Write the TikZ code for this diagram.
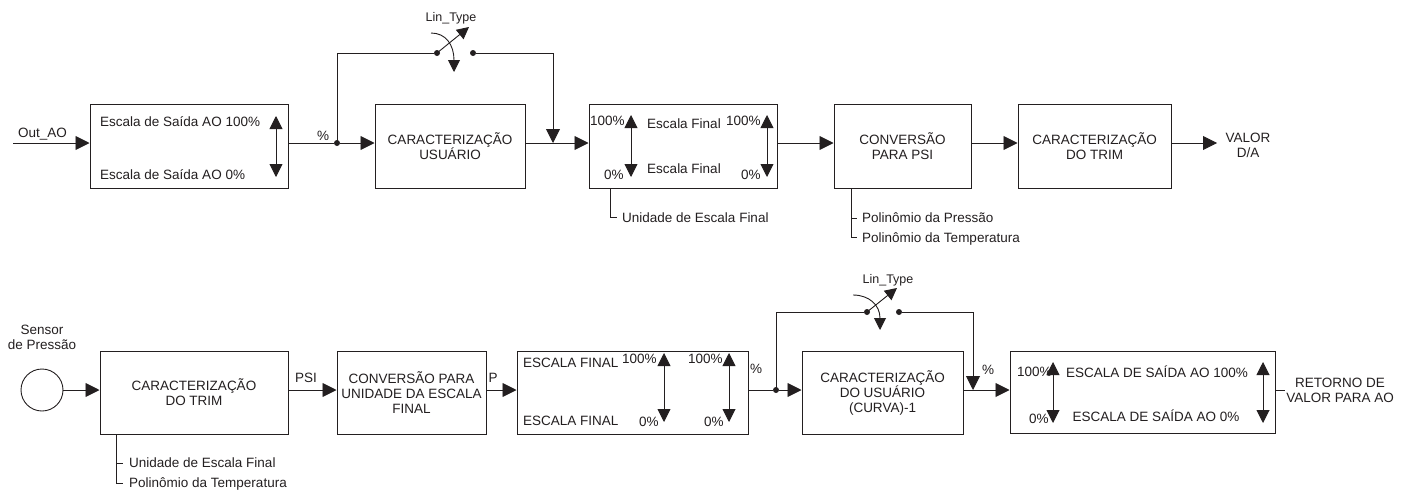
\documentclass[tikz,border=0pt]{standalone}
\usepackage{fontspec}
\setmainfont{Liberation Sans}
\usetikzlibrary{arrows.meta}
\definecolor{ink}{RGB}{35,31,32}
\begin{document}
\begin{tikzpicture}[x=1pt,y=-1pt,
  every node/.style={font=\fontsize{13.5}{15}\selectfont, text=ink, inner sep=0pt},
  box/.style={draw=ink, line width=1pt, align=center, fill=white},
  lbl/.style={text height=9.7pt, text depth=0pt},
  ml/.style={align=center},
  flow/.style={draw=ink, line width=0.9pt, -{Triangle[length=14pt,width=14pt]}},
  sflow/.style={draw=ink, line width=0.9pt, -{Triangle[length=12pt,width=12pt]}},
  darr/.style={draw=ink, line width=0.9pt, {Triangle[length=13pt,width=13pt]}-{Triangle[length=13pt,width=13pt]}},
  ln/.style={draw=ink, line width=0.9pt},
  dot/.style={circle, fill=ink, minimum size=6pt, inner sep=0pt},
  small/.style={font=\fontsize{12.5}{14}\selectfont}
]
\useasboundingbox (0,0) rectangle (1408,493);

% ================= TOP ROW =================
\coordinate (r1) at (0,143);
\coordinate (in1) at (13,143);
\node[lbl] (outao) at (42.5,133) {Out\_AO};

\node[box, minimum width=198pt, minimum height=84pt] (b1) at (189,146) {};
\node[lbl, anchor=west] (b1t) at (100,122) {Escala de Saída AO 100\%};
\node[lbl, anchor=west] (b1b) at (100,175) {Escala de Saída AO 0\%};
\coordinate (a1t) at (276,116);
\coordinate (a1b) at (276,177);
\draw[darr] (a1t) -- (a1b);
\draw[flow] (in1) -- (b1.west |- r1);

\node[dot] (d1) at (337,143) {};
\node[lbl] (pct1) at (323,136) {\%};
\node[box, minimum width=150pt, minimum height=84pt] (b2) at (450,146) {CARACTERIZAÇÃO\\USUÁRIO};
\draw[ln] (b1.east |- r1) -- (d1);
\draw[flow] (d1) -- (b2.west |- r1);

% switch 1
\node[dot] (s1a) at (437,53) {};
\node[dot] (s1b) at (473,53) {};
\coordinate (j1) at (553,143);
\coordinate (arm1) at (469,27);
\coordinate (c1s) at (431,33);
\coordinate (c1e) at (454,72);
\draw[ln] (d1.center) |- (s1a);
\draw[flow] (s1b) -| (j1);
\draw[sflow] (s1a.center) -- (arm1);
\draw[sflow] (c1s) .. controls (446,33) and (454,45) .. (c1e);
\node[lbl, small] (lt1) at (451,17) {Lin\_Type};

\node[box, minimum width=188pt, minimum height=84pt] (b3) at (683,146) {};
\draw[flow] (b2.east |- r1) -- (b3.west |- r1);
\node[lbl, anchor=west] (b3p1) at (590,121) {100\%};
\node[lbl] (b3e1) at (684,124) {Escala Final};
\node[lbl, anchor=west] (b3p2) at (726,121) {100\%};
\node[lbl, anchor=west] (b3z1) at (604,175) {0\%};
\node[lbl] (b3e2) at (684,169) {Escala Final};
\node[lbl, anchor=west] (b3z2) at (741,175) {0\%};
\coordinate (a3t) at (631,115); \coordinate (a3b) at (631,177);
\coordinate (a4t) at (767,115); \coordinate (a4b) at (767,177);
\draw[darr] (a3t) -- (a3b);
\draw[darr] (a4t) -- (a4b);
\coordinate (u0) at (610,188);
\coordinate (u1) at (617,217);
\draw[ln] (u0) |- (u1);
\node[lbl, anchor=west] (unid1) at (622,218) {Unidade de Escala Final};

\node[box, minimum width=137pt, minimum height=84pt] (b4) at (902.5,146) {CONVERSÃO\\PARA PSI};
\draw[flow] (b3.east |- r1) -- (b4.west |- r1);
\coordinate (p0) at (851,188);
\coordinate (p1) at (857,218);
\coordinate (p2) at (857,237);
\draw[ln] (p0) |- (p2);
\draw[ln] (p1 -| p0) -- (p1);
\node[lbl, anchor=west] (pol1) at (862,218) {Polinômio da Pressão};
\node[lbl, anchor=west] (pol2) at (862,238) {Polinômio da Temperatura};

\node[box, minimum width=153pt, minimum height=84pt] (b5) at (1094.5,146) {CARACTERIZAÇÃO\\DO TRIM};
\draw[flow] (b4.east |- r1) -- (b5.west |- r1);
\coordinate (out1) at (1217,143);
\draw[flow] (b5.east |- r1) -- (out1);
\node[ml] (valor) at (1248,145.5) {VALOR\\D/A};

% ================= BOTTOM ROW =================
\coordinate (r2) at (0,390);
\node[ml] (senstxt) at (42,337) {Sensor\\de Pressão};
\node[circle, draw=ink, line width=0.9pt, minimum size=42pt, inner sep=0pt] (sens) at (42,390) {};

\node[box, minimum width=188pt, minimum height=83pt] (b6) at (194,392.5) {CARACTERIZAÇÃO\\DO TRIM};
\draw[flow] (sens.east) -- (b6.west |- r2);
\coordinate (t0) at (116,434);
\coordinate (t1) at (123,463);
\coordinate (t2) at (123,483);
\draw[ln] (t0) |- (t2);
\draw[ln] (t1 -| t0) -- (t1);
\node[lbl, anchor=west] (unid2) at (129,463) {Unidade de Escala Final};
\node[lbl, anchor=west] (pol3) at (129,483) {Polinômio da Temperatura};

\node[lbl] (psi) at (306,378) {PSI};
\node[box, minimum width=149pt, minimum height=83pt] (b7) at (411.5,392.5) {CONVERSÃO PARA\\UNIDADE DA ESCALA\\FINAL};
\draw[flow] (b6.east |- r2) -- (b7.west |- r2);

\node[lbl] (pp) at (493,378) {P};
\node[box, minimum width=231pt, minimum height=83pt] (b8) at (632.5,392.5) {};
\draw[flow] (b7.east |- r2) -- (b8.west |- r2);
\node[lbl, anchor=west] (b8e1) at (523,363) {ESCALA FINAL};
\node[lbl, anchor=west] (b8e2) at (523,421) {ESCALA FINAL};
\node[lbl, anchor=west] (b8p1) at (622,359) {100\%};
\node[lbl, anchor=west] (b8z1) at (639,422) {0\%};
\node[lbl, anchor=west] (b8p2) at (688,359) {100\%};
\node[lbl, anchor=west] (b8z2) at (704,422) {0\%};
\coordinate (a8t) at (664,353); \coordinate (a8b) at (664,422);
\coordinate (a9t) at (729,353); \coordinate (a9b) at (729,422);
\draw[darr] (a8t) -- (a8b);
\draw[darr] (a9t) -- (a9b);

\node[lbl] (pct2) at (756,369) {\%};
\node[dot] (d2) at (776,390) {};
\node[box, minimum width=161pt, minimum height=83pt] (b9) at (882.5,392.5) {CARACTERIZAÇÃO\\DO USUÁRIO\\(CURVA)-1};
\draw[ln] (b8.east |- r2) -- (d2);
\draw[flow] (d2) -- (b9.west |- r2);

% switch 2
\node[dot] (s2a) at (867,312) {};
\node[dot] (s2b) at (899,312) {};
\coordinate (j2) at (973,390);
\coordinate (arm2) at (897,288);
\coordinate (c2s) at (853,295);
\coordinate (c2e) at (880,330);
\draw[ln] (d2.center) |- (s2a);
\draw[flow] (s2b) -| (j2);
\draw[sflow] (s2a.center) -- (arm2);
\draw[sflow] (c2s) .. controls (869,295) and (880,305) .. (c2e);
\node[lbl, small] (lt2) at (888,279) {Lin\_Type};

\node[lbl] (pct3) at (988,370) {\%};
\node[box, minimum width=265pt, minimum height=82pt] (b10) at (1142.5,392) {};
\draw[flow] (b9.east |- r2) -- (b10.west |- r2);
\node[lbl, anchor=west] (b10p) at (1017,372) {100\%};
\node[lbl, anchor=west] (b10z) at (1029,419) {0\%};
\node[lbl] (b10t) at (1157,373) {ESCALA DE SAÍDA AO 100\%};
\node[lbl] (b10b) at (1156,417) {ESCALA DE SAÍDA AO 0\%};
\coordinate (a10t) at (1053,362); \coordinate (a10b) at (1053,423);
\coordinate (a11t) at (1263,362); \coordinate (a11b) at (1263,423);
\draw[darr] (a10t) -- (a10b);
\draw[darr] (a11t) -- (a11b);
\coordinate (out2) at (1285,390);
\draw[ln] (b10.east |- r2) -- (out2);
\node[ml] (ret) at (1340,390.5) {RETORNO DE\\VALOR PARA AO};
\end{tikzpicture}
\end{document}
